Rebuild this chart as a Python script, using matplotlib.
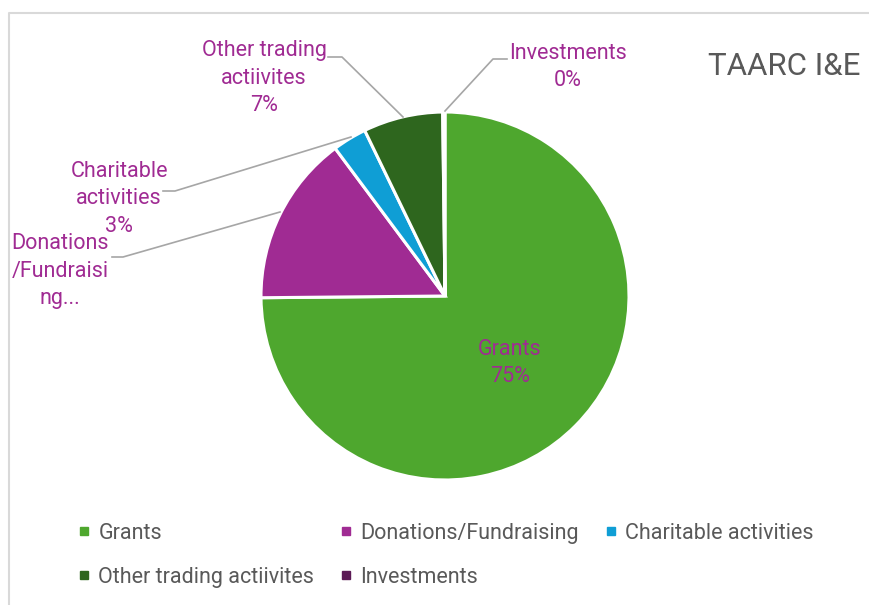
import matplotlib
matplotlib.use("Agg")
import matplotlib.pyplot as plt
from matplotlib.lines import Line2D

categories = ["Grants", "Donations/Fundraising", "Charitable activities",
              "Other trading actiivites", "Investments"]
values = [75.0, 15.0, 3.0, 7.0, 0.2]
colors = ["#4EA72E", "#A02B93", "#0F9ED5", "#2E661E", "#5C1A56"]
# data label wording as it shows on the chart (wrapped / truncated)
label_names = ["Grants", "Donations\n/Fundraisi\nng...", "Charitable\nactivities",
               "Other trading\nactiivites", "Investments"]
show_pct = [True, False, True, True, True]
title = "TAARC I&E"

W, H = 869, 605
CX, CY, R = 445, 296, 184   # pie centre / radius in pixels


def px(x, y):
    # pixel position -> data coords of the pie axes
    return (x - CX) / R, (CY - y) / R


plt.rcParams['font.family'] = ['Roboto', 'DejaVu Sans']
fig = plt.figure(figsize=(W / 100, H / 100), dpi=100)
ax = fig.add_axes([0, 0, 1, 1])

wedges, _ = ax.pie(values, colors=colors, startangle=90, counterclock=False,
                   radius=1, wedgeprops=dict(edgecolor="white", linewidth=2.2))
ax.set_xlim(-CX / R, (W - CX) / R)
ax.set_ylim((CY - H) / R, CY / R)
ax.axis("off")

# data labels + leader lines
total = sum(values)
label_pos = [(510, 363), (60, 271), (119, 199), (264, 78), (568, 67)]
leaders = [None,
           [(112, 257), (123, 257), (280, 212)],
           [(163, 191), (175, 191), (351, 137)],
           [(328, 57), (342, 57), (403, 117)],
           [(507, 59), (493, 59), (445, 111)]]
for name, v, sp, pos, ld in zip(label_names, values, show_pct, label_pos, leaders):
    txt = name
    if sp:
        txt += "\n%d%%" % round(100 * v / total)
    ax.text(*px(*pos), txt, ha="center", va="center", fontsize=15.5,
            color="#A02B93", linespacing=1.4)
    if ld:
        xs, ys = zip(*[px(*p) for p in ld])
        ax.plot(xs, ys, color="#A6A6A6", lw=1.2)

# chart border (only top and left visible in the crop)
bx, by = zip(*[px(8.5, H), px(8.5, 13), px(W, 13)])
ax.plot(bx, by, color="#D9D9D9", lw=1.5, clip_on=False)

fig.text(708 / W, 1 - 75 / H, title, fontsize=22.5, color="#595959",
         ha="left", va="baseline")

# legend, column-major order so rows read like the original
order = [0, 3, 1, 4, 2]
handles = [Line2D([], [], marker="s", markersize=6, color=colors[i], linestyle="none")
           for i in order]
fig.legend(handles, [categories[i] for i in order], ncol=3, loc="upper left",
           bbox_to_anchor=(79 / W, 1 - 523 / H), frameon=False, fontsize=15.5,
           labelcolor="#595959", handlelength=0.45, handletextpad=0.45,
           columnspacing=1.25, labelspacing=1.05, borderpad=0, borderaxespad=0)

fig.savefig("out.png", dpi=100)
